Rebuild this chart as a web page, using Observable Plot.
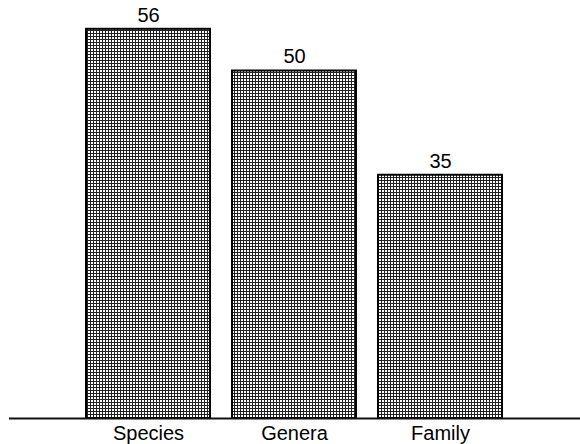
<!DOCTYPE html>
<html>
<head>
<meta charset="utf-8">
<script src="https://cdn.jsdelivr.net/npm/d3@7"></script>
<script src="https://cdn.jsdelivr.net/npm/@observablehq/plot@0.6"></script>
<style>
  html, body { margin: 0; padding: 0; background: #fff; }
  #chart svg { display: block; font-family: "Liberation Sans", Arial, sans-serif; }
</style>
</head>
<body>
<div id="chart"></div>
<script>
const categories = ["Species", "Genera", "Family"];
const counts = [56, 50, 35];

const data = categories.map((c, i) => ({category: c, count: counts[i]}));

const svg = Plot.plot({
  width: 580,
  height: 444,
  marginLeft: 9,
  marginRight: 0,
  marginTop: 1,
  marginBottom: 26,
  style: {fontFamily: "'Liberation Sans', Arial, sans-serif", background: "#fff"},
  x: {domain: categories, range: [64, 524], padding: 0.15, label: null},
  y: {domain: [0, 60], axis: null},
  marks: [
    Plot.barY(data, {x: "category", y: "count", fill: "url(#crosshatch)", stroke: "#000", strokeWidth: 2}),
    Plot.text(data, {x: "category", y: "count", text: d => String(d.count), dy: -14, fontSize: 20, fill: "#000"}),
    Plot.ruleY([0], {stroke: "#111", strokeWidth: 2}),
    Plot.axisX({tickSize: 0, tickPadding: 7, fontSize: 20, color: "#000", label: null})
  ]
});

const defs = d3.select(svg).insert("defs", ":first-child");
const pat = defs.append("pattern")
  .attr("id", "crosshatch")
  .attr("patternUnits", "userSpaceOnUse")
  .attr("width", 3)
  .attr("height", 3);
pat.append("rect").attr("width", 3).attr("height", 3).attr("fill", "#fff");
pat.append("rect").attr("x", 0).attr("y", 0).attr("width", 3).attr("height", 1).attr("fill", "#222");
pat.append("rect").attr("x", 0).attr("y", 0).attr("width", 1).attr("height", 3).attr("fill", "#222");

document.getElementById("chart").appendChild(svg);
</script>
</body>
</html>
